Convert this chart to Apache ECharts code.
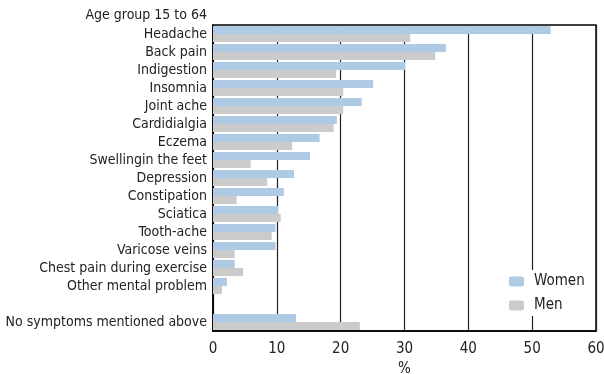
<!DOCTYPE html>
<html><head><meta charset="utf-8">
<script src="https://cdn.jsdelivr.net/npm/echarts@6/dist/echarts.min.js"></script>
<style>html,body{margin:0;padding:0;background:#fff}#c{width:604px;height:374px}</style>
</head><body><div id="c"></div>
<script>
const categories = ['Headache','Back pain','Indigestion','Insomnia','Joint ache','Cardidialgia','Eczema','Swellingin the feet','Depression','Constipation','Sciatica','Tooth-ache','Varicose veins','Chest pain during exercise','Other mental problem','','No symptoms mentioned above'];
const women = [52.9,36.5,30.1,25.1,23.3,19.4,16.7,15.2,12.7,11.1,10.2,9.8,9.8,3.4,2.2,null,13.0];
const men = [30.9,34.8,19.3,20.4,20.4,18.9,12.4,5.9,8.5,3.7,10.6,9.2,3.4,4.7,1.4,null,23.0];
const xTicks = [0,10,20,30,40,50,60];
const FONT = '"DejaVu Sans Condensed", "Open Sans", sans-serif';
const chart = echarts.init(document.getElementById('c'));
chart.setOption({
  animation: false,
  textStyle: {fontFamily: FONT},
  graphic: [{type:'text', right: 397, top: 8, style:{text:'Age group 15 to 64', font:'14px ' + FONT, fill:'#222', textAlign:'right'}}],
  grid: {left: 213, right: 8, top: 25, bottom: 43, show: true, borderColor: '#000', borderWidth: 1.5, outerBoundsMode: 'none', containLabel: false},
  legend: {orient:'vertical', left: 503, top: 270, itemWidth: 15, itemHeight: 10, itemGap: 9, padding:[4,3,3,6],
    backgroundColor:'#fff', textStyle:{fontSize:15, color:'#222', fontFamily: FONT, padding:[0,0,0,5]},
    data:['Women','Men']},
  xAxis: {type:'value', min: xTicks[0], max: xTicks[xTicks.length-1], interval: 10,
    name:'%', nameLocation:'middle', nameGap: 29, nameTextStyle:{fontSize:15, color:'#222'},
    axisLine:{show:true, lineStyle:{color:'#000', width:1.5}}, axisTick:{show:false},
    axisLabel:{fontSize:15, color:'#222', margin: 11},
    splitLine:{show:true, lineStyle:{color:'#222', width:1.2}}},
  yAxis: {type:'category', data: categories, inverse: true,
    axisLine:{show:true, lineStyle:{color:'#000', width:1.5}}, axisTick:{show:false},
    axisLabel:{fontSize:14, color:'#222', margin: 6, interval: 0}},
  series: [
    {name:'Women', type:'bar', data: women, itemStyle:{color:'#aecae5'}, barGap:'0%', barCategoryGap:'10%'},
    {name:'Men', type:'bar', data: men, itemStyle:{color:'#cbcbcb'}, barGap:'0%', barCategoryGap:'10%'}
  ]
});
</script></body></html>
